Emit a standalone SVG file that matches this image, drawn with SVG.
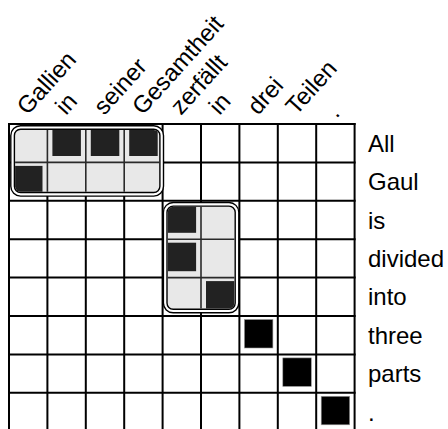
<svg xmlns="http://www.w3.org/2000/svg" width="448" height="429" viewBox="0 0 448 429">
<style>
text{font-family:"Liberation Sans",Arial,sans-serif;font-size:24px;fill:#000}
.grid line{stroke:#000;stroke-width:2}
.band{fill:#e8e8e8;stroke:#000;stroke-width:5}
.bandw{fill:none;stroke:#fff;stroke-width:2.2}
.in line{stroke:#2a2a2a;stroke-width:1.6}
.sq{fill:#222}
.sqo{fill:#000;stroke:#999;stroke-width:0.6}
</style>
<defs>
<clipPath id="c1"><rect x="15.1" y="130" width="144.1" height="61.8" rx="5.5"/></clipPath>
<clipPath id="c2"><rect x="167.7" y="206.8" width="66.8" height="101.7" rx="5.5"/></clipPath>
</defs>
<rect width="448" height="429" fill="#fff"/>
<g id="cols">
<text transform="translate(27.5,116) rotate(-48)">Gallien</text>
<text transform="translate(65.9,116) rotate(-48)">in</text>
<text transform="translate(104.3,116) rotate(-48)">seiner</text>
<text transform="translate(142.7,116) rotate(-48)">Gesamtheit</text>
<text transform="translate(181.1,116) rotate(-48)">zerfällt</text>
<text transform="translate(219.5,116) rotate(-48)">in</text>
<text transform="translate(257.9,116) rotate(-48)">drei</text>
<text transform="translate(296.3,116) rotate(-48)">Teilen</text>
<text transform="translate(336.5,119) rotate(-48)">.</text>
</g>
<g id="rows">
<text x="368" y="151.8">All</text>
<text x="368" y="190.2">Gaul</text>
<text x="368" y="228.6">is</text>
<text x="368" y="267">divided</text>
<text x="368" y="305.4">into</text>
<text x="368" y="343.8">three</text>
<text x="368" y="382.2">parts</text>
<text x="368" y="420.6">.</text>
</g>
<g id="connectors" class="grid">
<line x1="9" y1="123" x2="9" y2="432"/>
<line x1="47.4" y1="123" x2="47.4" y2="432"/>
<line x1="85.8" y1="123" x2="85.8" y2="432"/>
<line x1="124.2" y1="123" x2="124.2" y2="432"/>
<line x1="162.6" y1="123" x2="162.6" y2="432"/>
<line x1="201" y1="123" x2="201" y2="432"/>
<line x1="239.4" y1="123" x2="239.4" y2="432"/>
<line x1="277.8" y1="123" x2="277.8" y2="432"/>
<line x1="316.2" y1="123" x2="316.2" y2="432"/>
<line x1="354.6" y1="123" x2="354.6" y2="432"/>
<line x1="8" y1="124" x2="355.6" y2="124"/>
<line x1="8" y1="162.4" x2="355.6" y2="162.4"/>
<line x1="8" y1="200.8" x2="355.6" y2="200.8"/>
<line x1="8" y1="239.2" x2="355.6" y2="239.2"/>
<line x1="8" y1="277.6" x2="355.6" y2="277.6"/>
<line x1="8" y1="316" x2="355.6" y2="316"/>
<line x1="8" y1="354.4" x2="355.6" y2="354.4"/>
<line x1="8" y1="392.8" x2="355.6" y2="392.8"/>
</g>
<g id="group1">
<rect class="band" x="12.6" y="127.5" width="149.1" height="66.8" rx="8"/>
<g clip-path="url(#c1)">
<g class="in">
<line x1="47.4" y1="128" x2="47.4" y2="194"/>
<line x1="85.8" y1="128" x2="85.8" y2="194"/>
<line x1="124.2" y1="128" x2="124.2" y2="194"/>
<line x1="14" y1="162.4" x2="161" y2="162.4"/>
</g>
<rect class="sq" x="52.4" y="127.5" width="28.5" height="28.5"/>
<rect class="sq" x="90.8" y="127.5" width="28.5" height="28.5"/>
<rect class="sq" x="129.2" y="127.5" width="28.5" height="28.5"/>
<rect class="sq" x="14" y="165.9" width="28.5" height="28.5"/>
</g>
<rect class="bandw" x="12.6" y="127.5" width="149.1" height="66.8" rx="8"/>
</g>
<g id="group2">
<rect class="band" x="165.2" y="204.3" width="71.8" height="106.7" rx="8"/>
<g clip-path="url(#c2)">
<g class="in">
<line x1="201" y1="205" x2="201" y2="310"/>
<line x1="166" y1="239.2" x2="236" y2="239.2"/>
<line x1="166" y1="277.6" x2="236" y2="277.6"/>
</g>
<rect class="sq" x="167.6" y="204.3" width="28.5" height="28.5"/>
<rect class="sq" x="167.6" y="242.7" width="28.5" height="28.5"/>
<rect class="sq" x="206" y="281.1" width="28.5" height="28.5"/>
</g>
<rect class="bandw" x="165.2" y="204.3" width="71.8" height="106.7" rx="8"/>
</g>
<g id="cell-drei-three"><rect class="sqo" x="244.4" y="319.5" width="28.5" height="28.5"/></g>
<g id="cell-Teilen-parts"><rect class="sqo" x="282.8" y="357.9" width="28.5" height="28.5"/></g>
<g id="cell-dot-dot"><rect class="sqo" x="321.2" y="396.3" width="28.5" height="28.5"/></g>
</svg>
